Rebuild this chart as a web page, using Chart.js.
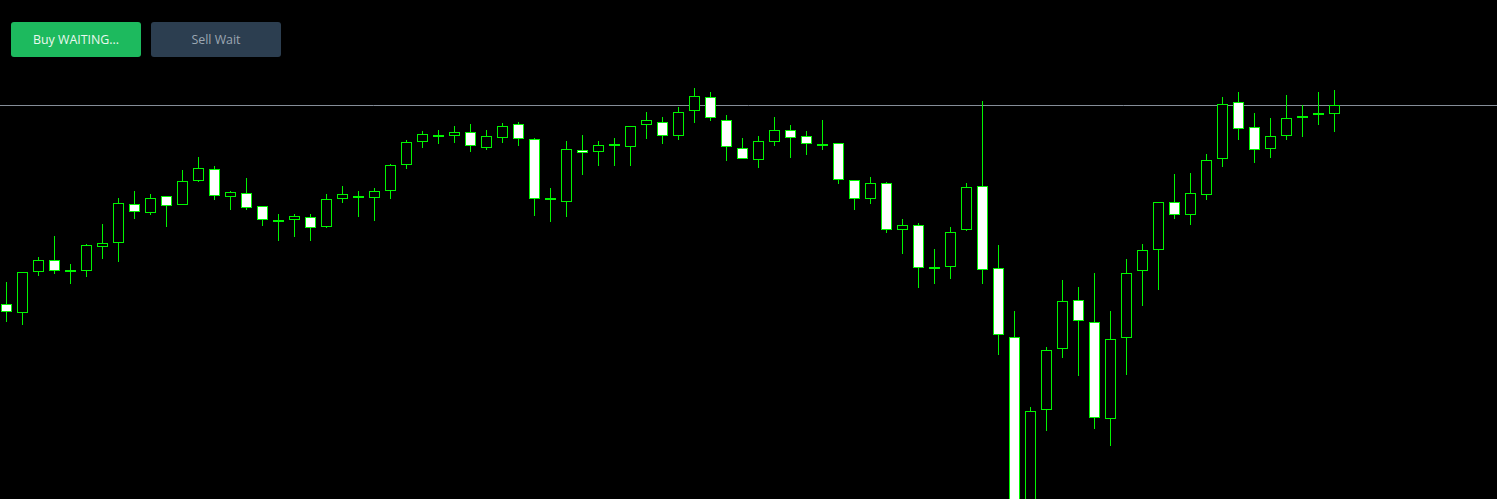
<!DOCTYPE html>
<html>
<head>
<meta charset="utf-8">
<title>Candles</title>
<script src="https://cdn.jsdelivr.net/npm/chart.js@4.4.1/dist/chart.umd.min.js"></script>
<style>
  html, body { margin: 0; padding: 0; background: #000; overflow: hidden; }
  #wrap { position: absolute; left: 0; top: 0; width: 1497px; height: 499px; }
  .trade-btn {
    position: absolute; top: 22px; width: 130px; height: 35px;
    border: 0; border-radius: 3px; padding: 0;
    font: 12.4px 'Open Sans', sans-serif; text-align: center; line-height: 36px;
  }
  #buyBtn { left: 11px; background: #1dba5e; color: #eaf8ef; }
  #sellBtn { left: 151px; background: #2c3e50; color: #9ca7b2; }
</style>
</head>
<body>
<div id="wrap"><canvas id="candleCanvas" width="1497" height="499"></canvas></div>
<button id="buyBtn" class="trade-btn">Buy WAITING...</button>
<button id="sellBtn" class="trade-btn">Sell Wait</button>
<script>
const open = [
  2019.6, 2018.7, 2022.8, 2024.0, 2022.8, 2022.9, 2025.3, 2025.7, 2029.6, 2028.7,
  2030.4, 2029.5, 2031.9, 2033.1, 2030.3, 2030.7, 2029.4, 2027.8, 2028.0, 2028.3,
  2027.3, 2030.1, 2030.2, 2030.2, 2030.9, 2033.5, 2035.8, 2036.5, 2036.4, 2036.8,
  2035.2, 2036.2, 2037.6, 2036.1, 2030.0, 2029.8, 2035.0, 2034.8, 2035.4, 2035.3,
  2037.5, 2037.8, 2036.4, 2038.9, 2040.3, 2038.0, 2035.2, 2034.0, 2035.8, 2037.0,
  2036.4, 2035.4, 2035.7, 2032.0, 2030.1, 2031.7, 2027.0, 2027.5, 2023.3, 2023.3,
  2027.0, 2031.4, 2023.2, 2016.3, 1998.0, 2009.0, 2015.1, 2020.0, 2017.8, 2008.1,
  2016.2, 2022.9, 2025.0, 2029.8, 2028.5, 2030.5, 2034.1, 2039.8, 2037.3, 2035.1,
  2036.4, 2038.2, 2038.5, 2038.6
];
const high = [
  2021.8, 2022.8, 2024.3, 2026.4, 2023.6, 2025.6, 2027.6, 2030.2, 2030.9, 2030.6,
  2030.4, 2033.0, 2034.3, 2033.4, 2030.9, 2032.2, 2029.4, 2028.6, 2028.6, 2028.6,
  2030.6, 2031.4, 2030.9, 2031.2, 2033.6, 2036.0, 2036.9, 2037.0, 2037.4, 2037.6,
  2037.0, 2037.7, 2037.8, 2036.2, 2031.2, 2035.9, 2036.5, 2035.9, 2036.2, 2037.4,
  2038.8, 2038.3, 2039.3, 2041.2, 2040.8, 2038.5, 2036.2, 2036.4, 2038.3, 2037.5,
  2036.9, 2038.0, 2035.7, 2032.0, 2032.3, 2031.8, 2028.1, 2027.7, 2025.1, 2027.3,
  2031.7, 2039.9, 2025.5, 2018.9, 2009.3, 2015.3, 2022.0, 2021.3, 2022.7, 2018.9,
  2024.1, 2025.6, 2029.8, 2032.6, 2032.7, 2034.6, 2040.3, 2040.8, 2038.7, 2038.2,
  2040.5, 2039.5, 2040.8, 2041.0
];
const low = [
  2017.8, 2017.5, 2022.4, 2022.6, 2021.6, 2022.3, 2024.1, 2023.8, 2028.1, 2028.5,
  2027.3, 2029.5, 2031.8, 2030.0, 2029.0, 2029.0, 2027.4, 2025.9, 2026.3, 2025.9,
  2027.2, 2029.7, 2028.3, 2027.9, 2030.1, 2033.1, 2035.2, 2035.6, 2035.7, 2034.8,
  2035.0, 2035.7, 2035.4, 2028.4, 2027.8, 2028.3, 2032.5, 2033.4, 2033.4, 2033.4,
  2036.1, 2035.6, 2036.0, 2037.7, 2037.9, 2033.9, 2034.1, 2033.2, 2035.4, 2034.2,
  2034.5, 2035.0, 2031.6, 2029.0, 2029.6, 2026.7, 2024.6, 2021.2, 2021.6, 2022.1,
  2026.9, 2021.6, 2014.5, 1995.5, 1996.0, 2006.9, 2014.2, 2012.4, 2007.1, 2005.4,
  2012.5, 2019.4, 2021.0, 2028.1, 2027.5, 2030.0, 2033.3, 2036.0, 2033.7, 2034.2,
  2036.0, 2036.3, 2037.5, 2036.8
];
const close = [
  2018.8, 2022.8, 2024.0, 2022.9, 2023.0, 2025.5, 2025.7, 2029.7, 2028.8, 2030.2,
  2029.4, 2031.9, 2033.2, 2030.4, 2030.8, 2029.2, 2028.0, 2028.0, 2028.4, 2027.2,
  2030.1, 2030.6, 2030.4, 2030.9, 2033.5, 2035.8, 2036.6, 2036.3, 2036.8, 2035.4,
  2036.4, 2037.4, 2036.1, 2030.1, 2030.2, 2035.1, 2034.7, 2035.5, 2035.6, 2037.4,
  2038.0, 2036.4, 2038.8, 2040.4, 2038.2, 2035.3, 2034.1, 2035.9, 2037.0, 2036.2,
  2035.6, 2035.6, 2032.0, 2030.1, 2031.7, 2027.0, 2027.5, 2023.2, 2023.1, 2026.8,
  2031.3, 2023.0, 2016.5, 1997.0, 2008.9, 2015.0, 2019.9, 2017.9, 2008.2, 2016.1,
  2022.7, 2025.0, 2029.8, 2028.5, 2030.7, 2034.0, 2039.6, 2037.1, 2035.0, 2036.4,
  2038.2, 2038.4, 2038.7, 2039.5
];
// horizontal price level drawn across the chart
const levelPrice = 2039.45;
const priceMin = 2000.1;
const priceMax = 2050;

const CANDLE_GREEN = '#00f500';

document.addEventListener('DOMContentLoaded', () => {
  const ctx = document.getElementById('candleCanvas')?.getContext('2d');
  if (!ctx || !window.Chart) return;

  const idx = open.map((v, i) => i);
  const bodies = idx.map(i => ({ x: i, y: [Math.min(open[i], close[i]), Math.max(open[i], close[i])] }));
  const wicks = idx.map(i => ({ x: i, y: [low[i], high[i]] }));
  // MT4 style: bull candles hollow (black), bear candles white
  const fills = idx.map(i => (close[i] >= open[i] ? '#000000' : '#ffffff'));

  new Chart(ctx, {
    type: 'bar',
    data: {
      datasets: [
        {
          data: bodies, order: 1, grouped: false, barThickness: 11,
          backgroundColor: fills, borderColor: CANDLE_GREEN, borderWidth: 1,
          borderSkipped: false, inflateAmount: 0,
        },
        {
          data: wicks, order: 2, grouped: false, barThickness: 1,
          backgroundColor: CANDLE_GREEN, borderWidth: 0, inflateAmount: 0,
        },
        {
          type: 'line', order: 3,
          data: [{ x: -1, y: levelPrice }, { x: 100, y: levelPrice }],
          borderColor: '#858d98', borderWidth: 1, pointRadius: 0, fill: false,
        },
      ],
    },
    options: {
      responsive: false,
      animation: false,
      events: [],
      layout: { padding: 0 },
      plugins: { legend: { display: false }, tooltip: { enabled: false } },
      scales: {
        x: { type: 'linear', display: false, offset: false, min: -0.40625, max: 93.15625 },
        y: { type: 'linear', display: false, beginAtZero: false, min: priceMin, max: priceMax },
      },
    },
  });
});
</script>
</body>
</html>
